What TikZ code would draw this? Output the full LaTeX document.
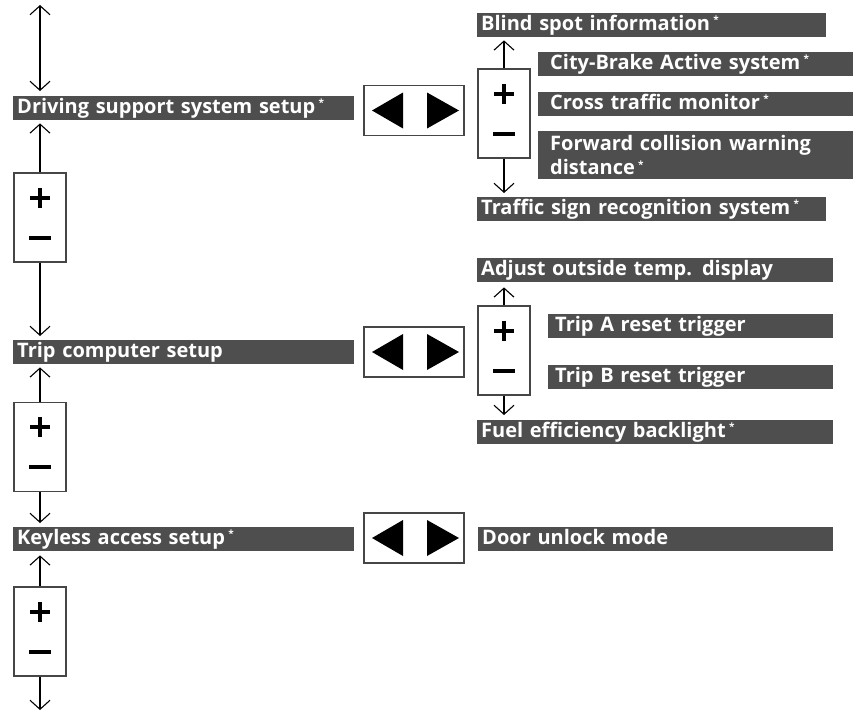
\documentclass[tikz,border=0pt]{standalone}
\usepackage{fontspec}
\setmainfont{Open Sans}
\usetikzlibrary{arrows.meta}
\definecolor{barcol}{RGB}{78,78,78}
\definecolor{boxline}{RGB}{70,70,70}
\newcommand\mystar{\,\raisebox{6.5pt}{\fontsize{10}{10}\selectfont *}}
\newcommand\barfont{\fontsize{20}{24}\selectfont\bfseries}
\tikzset{
  bar/.style={fill=barcol, text=white, font=\barfont, anchor=north west,
    inner xsep=4pt, inner ysep=0pt, minimum height=24pt,
    text height=14.5pt, text depth=4pt, align=left},
  pmbox/.style={draw=boxline, line width=1.2pt, fill=white, minimum width=52pt,
    minimum height=89pt, inner sep=0pt,
    path picture={
      \draw[black, line width=4pt] ([yshift=20pt,xshift=-10pt]path picture bounding box.center) -- ++(20pt,0pt);
      \draw[black, line width=4pt] ([yshift=30pt]path picture bounding box.center) -- ++(0pt,-20pt);
      \draw[black, line width=4pt] ([yshift=-20pt,xshift=-11pt]path picture bounding box.center) -- ++(22pt,0pt);
    }},
  lrbox/.style={draw=boxline, line width=1.2pt, fill=white, minimum width=100pt,
    minimum height=50pt, inner sep=0pt,
    path picture={
      \fill[black] ([xshift=-42pt]path picture bounding box.center) -- ([xshift=-11pt,yshift=18pt]path picture bounding box.center) -- ([xshift=-11pt,yshift=-18pt]path picture bounding box.center) -- cycle;
      \fill[black] ([xshift=45pt]path picture bounding box.center) -- ([xshift=13pt,yshift=18pt]path picture bounding box.center) -- ([xshift=13pt,yshift=-18pt]path picture bounding box.center) -- cycle;
    }},
  ar/.style={line width=1.3pt, -{Straight Barb[length=9pt,width=20pt,line width=1.1pt]}},
  bi/.style={line width=1.3pt, {Straight Barb[length=9pt,width=20pt,line width=1.1pt]}-{Straight Barb[length=9pt,width=20pt,line width=1.1pt]}}
}
\begin{document}
\begin{tikzpicture}[x=1pt,y=-1pt]
\useasboundingbox (0,0) rectangle (859,712);
% left column bars
\node[bar, text width=333pt] (b1) at (13,96) {Driving support system setup\mystar};
\node[bar, text width=333pt] (b2) at (13,340) {Trip computer setup};
\node[bar, text width=333pt] (b3) at (13,527) {Keyless access setup\mystar};
% left +/- boxes
\node[pmbox] (pm1) at (40,217.5) {};
\node[pmbox] (pm2) at (40,447) {};
\node[pmbox] (pm3) at (40,631.5) {};
\coordinate (topL) at (40,5);
\coordinate (botL) at (40,710);
% left/right boxes
\node[lrbox] (lr1) at (414,110.5) {};
\node[lrbox] (lr2) at (414,352) {};
\node[lrbox] (lr3) at (414,538) {};
% right group 1
\node[bar, text width=341pt] (r1a) at (477,13) {Blind spot information\mystar};
\node[bar, inner xsep=12pt, text width=291pt] (r1b) at (538,52) {City-Brake Active system\mystar};
\node[bar, inner xsep=12pt, text width=291pt] (r1c) at (538,92) {Cross traffic monitor\mystar};
\node[bar, inner xsep=12pt, text width=291pt, text height=, text depth=, minimum height=48pt] (r1d) at (538,131) {Forward collision warning\\distance\mystar};
\node[bar, text width=341pt] (r1e) at (477,197) {Traffic sign recognition system\mystar};
\node[pmbox] (pmr1) at (504,113.5) {};
% right group 2
\node[bar, text width=348pt] (r2a) at (477,258) {Adjust outside temp. display};
\node[bar, inner xsep=7pt, text width=271pt] (r2b) at (548,314) {Trip A reset trigger};
\node[bar, inner xsep=7pt, text width=271pt] (r2c) at (548,365) {Trip B reset trigger};
\node[bar, text width=348pt] (r2d) at (477,420) {Fuel efficiency backlight\mystar};
\node[pmbox] (pmr2) at (504,350.5) {};
% right group 3
\node[bar, text width=347pt] (r3a) at (478,527) {Door unlock mode};
% connectors left
\draw[bi, shorten >=5pt] (topL) -- (topL |- b1.north);
\draw[ar, shorten >=3pt] (pm1.north) -- (pm1.north |- b1.south);
\draw[ar, shorten >=4pt] (pm1.south) -- (pm1.south |- b2.north);
\draw[ar, shorten >=3pt] (pm2.north) -- (pm2.north |- b2.south);
\draw[ar, shorten >=4pt] (pm2.south) -- (pm2.south |- b3.north);
\draw[ar, shorten >=4pt] (pm3.north) -- (pm3.north |- b3.south);
\draw[ar] (pm3.south) -- (botL);
% connectors right
\draw[ar, shorten >=3pt] (pmr1.north) -- (pmr1.north |- r1a.south);
\draw[ar, shorten >=4pt] (pmr1.south) -- (pmr1.south |- r1e.north);
\draw[ar, shorten >=5pt] (pmr2.north) -- (pmr2.north |- r2a.south);
\draw[ar, shorten >=5pt] (pmr2.south) -- (pmr2.south |- r2d.north);
\end{tikzpicture}
\end{document}
